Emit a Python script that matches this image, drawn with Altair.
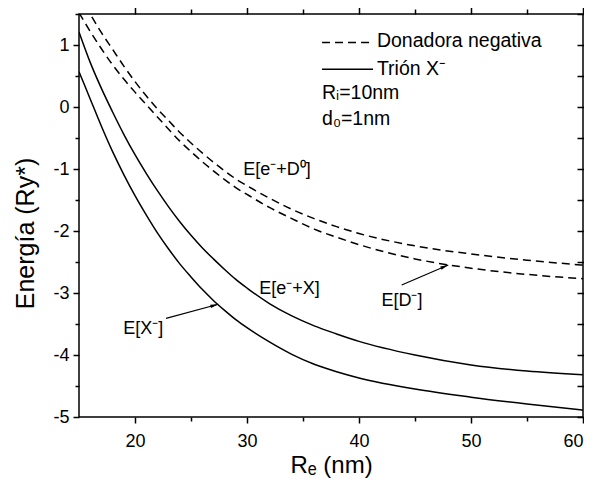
import math
import altair as alt
import pandas as pd

# ---------------- data ----------------
RE = [15, 16, 17, 18, 19, 20, 21, 22, 23, 24, 25, 26, 27, 28, 29, 30,
      32, 34, 36, 38, 40, 45, 50, 55, 60]

# Trión X-  (solid)
E_XM = [0.57, 0.13, -0.31, -0.72, -1.09, -1.43, -1.74, -2.03, -2.29, -2.53,
        -2.74, -2.94, -3.12, -3.28, -3.43, -3.56, -3.79, -3.99, -4.15, -4.27,
        -4.37, -4.55, -4.68, -4.79, -4.89]
E_EX = [1.21, 0.72, 0.30, -0.08, -0.44, -0.77, -1.07, -1.35, -1.61, -1.85,
        -2.07, -2.27, -2.45, -2.62, -2.78, -2.92, -3.17, -3.37, -3.53, -3.66,
        -3.78, -4.00, -4.16, -4.26, -4.32]
# Donadora negativa (dashed)
E_DM = [1.52, 1.22, 0.94, 0.68, 0.45, 0.24, 0.04, -0.16, -0.36, -0.55,
        -0.72, -0.88, -1.03, -1.17, -1.30, -1.41, -1.62, -1.80, -1.97, -2.10,
        -2.22, -2.45, -2.60, -2.70, -2.77]
E_ED0 = [1.82, 1.50, 1.20, 0.93, 0.66, 0.41, 0.18, -0.03, -0.22, -0.41,
         -0.58, -0.74, -0.89, -1.03, -1.16, -1.27, -1.47, -1.65, -1.80, -1.93,
         -2.04, -2.24, -2.37, -2.47, -2.55]

X_MAJOR = [20, 30, 40, 50, 60]
X_MINOR = [25, 35, 45, 55]
Y_MAJOR = [-5, -4, -3, -2, -1, 0, 1]
Y_MINOR = [-4.5, -3.5, -2.5, -1.5, -0.5, 0.5, 1.5]

LABEL_TEXT = ["E[e⁻+D⁰]", "E[e⁻+X]", "E[X⁻]", "E[D⁻]"]
LABEL_X = [29.67, 31.1, 18.96, 42.0]
LABEL_Y = [-1.02, -2.94, -3.58, -3.13]

ARROW_X0 = [22.77, 43.81]
ARROW_Y0 = [-3.408, -2.871]
ARROW_X1 = [27.44, 47.97]
ARROW_Y1 = [-3.182, -2.548]

LEG_TEXT = ["Donadora negativa", "Trión X⁻", "Rᵢ=10nm", "d₀=1nm"]
LEG_TX = [41.6, 41.6, 36.7, 36.7]
LEG_TY = [1.07, 0.62, 0.23, -0.19]
LEG_LX0 = [36.7, 36.7]
LEG_LX1 = [41.25, 41.25]
LEG_LY = [1.04, 0.61]

# ---------------- chart ----------------
FONT = "Liberation Sans"
W, H = 504, 403
XD = [15, 60]
YD = [-5, 1.5]
xs = alt.Scale(domain=XD, nice=False, zero=False)
ys = alt.Scale(domain=YD, nice=False, zero=False)
DASH = [8, 5]


def axis(orient, values, size, labels=False, title="", tpad=0, tsize=24,
         offset=0, flush=False, **extra):
    kw = dict(orient=orient, values=values, tickSize=size, tickWidth=1.5,
              tickColor="black", domain=False, grid=False, labels=labels,
              title=title, offset=offset)
    if labels:
        kw.update(labelFont=FONT, labelFontSize=18, labelColor="black",
                  labelExpr="datum.value + ''", labelFlush=flush,
                  labelPadding=9 if orient == "bottom" else 4,
                  titleFont=FONT, titleFontSize=tsize, titleFontWeight="normal",
                  titleColor="black", titlePadding=tpad)
    kw.update(extra)
    return alt.Axis(**kw)


def curve(ys_vals, xaxis, yaxis, dashed):
    df = pd.DataFrame({"x": RE, "y": ys_vals})
    m = dict(color="black", strokeWidth=1.5, clip=True, interpolate="monotone")
    if dashed:
        m["strokeDash"] = DASH
    return alt.Chart(df).mark_line(**m).encode(
        x=alt.X("x:Q", scale=xs, axis=xaxis),
        y=alt.Y("y:Q", scale=ys, axis=yaxis),
    )


l1 = curve(E_XM,
           axis("bottom", X_MAJOR, 6, True, "Rₑ (nm)", 3, 24, flush=True),
           axis("left", Y_MAJOR, 6, True, "Energía (Ry*)", 14, 25, titleY=219), False)
l2 = curve(E_EX, axis("bottom", X_MINOR, 4), axis("left", Y_MINOR, 4), False)
l3 = curve(E_DM, axis("top", X_MAJOR, 9), axis("right", Y_MAJOR, 7, offset=-6), True)
l4 = curve(E_ED0, axis("top", X_MINOR, 5), axis("right", Y_MINOR, 7, offset=-6), True)

NX = alt.X("x:Q", scale=xs, axis=None)
NY = alt.Y("y:Q", scale=ys, axis=None)

labels = alt.Chart(pd.DataFrame({"x": LABEL_X, "y": LABEL_Y, "t": LABEL_TEXT})).mark_text(
    align="left", baseline="middle", font=FONT, fontSize=18, color="black"
).encode(x=NX, y=NY, text="t:N")

legtext = alt.Chart(pd.DataFrame({"x": LEG_TX, "y": LEG_TY, "t": LEG_TEXT})).mark_text(
    align="left", baseline="middle", font=FONT, fontSize=19.5, color="black"
).encode(x=NX, y=NY, text="t:N")

legdash = alt.Chart(pd.DataFrame({"x": LEG_LX0[:1], "x2": LEG_LX1[:1], "y": LEG_LY[:1]})).mark_rule(
    color="black", strokeWidth=1.5, strokeDash=DASH
).encode(x=NX, x2="x2:Q", y=NY)
legsolid = alt.Chart(pd.DataFrame({"x": LEG_LX0[1:], "x2": LEG_LX1[1:], "y": LEG_LY[1:]})).mark_rule(
    color="black", strokeWidth=1.5
).encode(x=NX, x2="x2:Q", y=NY)

# arrows
PX = W / (XD[1] - XD[0])
PY = H / (YD[1] - YD[0])
HEAD = 8
hx, hy, ha = [], [], []
for x0, y0, x1, y1 in zip(ARROW_X0, ARROW_Y0, ARROW_X1, ARROW_Y1):
    dxp = (x1 - x0) * PX
    dyp = -(y1 - y0) * PY
    L = math.hypot(dxp, dyp)
    ux, uy = dxp / L, dyp / L
    hx.append(x1 - (HEAD / 2) * ux / PX)
    hy.append(y1 + (HEAD / 2) * uy / PY)
    ha.append(math.degrees(math.atan2(uy, ux)) % 360)

shafts = alt.Chart(pd.DataFrame({"x": ARROW_X0, "y": ARROW_Y0, "x2": ARROW_X1, "y2": ARROW_Y1})).mark_rule(
    color="black", strokeWidth=1.2
).encode(x=NX, y=NY, x2="x2:Q", y2="y2:Q")

heads = alt.Chart(pd.DataFrame({"x": hx, "y": hy, "a": ha})).mark_point(
    shape="M1,0L-1,-0.42L-1,0.42Z", filled=True, color="black", opacity=1, size=HEAD * HEAD
).encode(x=NX, y=NY, angle=alt.Angle("a:Q", scale=None))

chart = alt.layer(l1, l2, l3, l4, labels, legtext, legdash, legsolid, shafts, heads).resolve_axis(
    x="independent", y="independent"
).properties(
    width=W, height=H,
    padding={"left": 71, "top": 6, "right": 1, "bottom": 62},
    autosize=alt.AutoSizeParams(type="none"),
    background="white",
).configure_view(stroke="black", strokeWidth=1.5)

chart.save("out.html", embed_options={"renderer": "svg", "actions": False})
